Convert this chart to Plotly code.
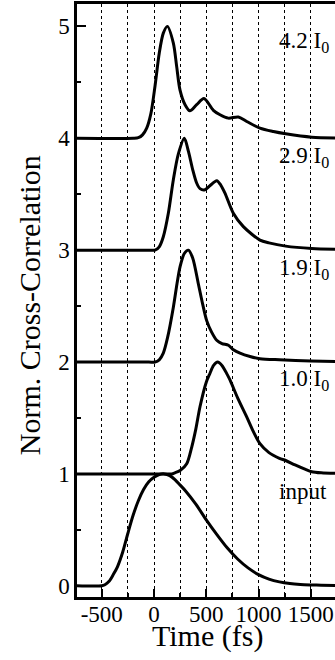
import plotly.graph_objects as go

# ---- data ----
t_input = [-740, -500, -470, -430, -390, -350, -300, -250, -200, -150, -100, -50, 0, 50, 100, 150, 200, 250, 300,
           400, 500, 600, 700, 800, 900, 1000, 1100, 1200, 1300, 1400, 1500, 1600, 1750]
v_input = [0, 0, 0.01, 0.04, 0.10, 0.17, 0.30, 0.47, 0.63, 0.76, 0.86, 0.93, 0.97, 0.995, 1.0, 0.985, 0.95, 0.90, 0.85,
           0.73, 0.59, 0.46, 0.34, 0.24, 0.16, 0.10, 0.06, 0.035, 0.02, 0.012, 0.008, 0.005, 0.003]

t_10 = [-740, 100, 169, 200, 250, 313, 361, 400, 440, 500, 536, 570, 609, 650, 700, 727, 800, 887, 950, 1014,
        1100, 1200, 1260, 1350, 1450, 1509, 1600, 1750]
v_10 = [0, 0, 0, 0.01, 0.03, 0.09, 0.24, 0.40, 0.60, 0.82, 0.90, 0.97, 1.0, 0.97, 0.89, 0.84, 0.68, 0.51, 0.38, 0.27,
        0.19, 0.14, 0.12, 0.08, 0.04, 0.02, 0.01, 0.005]

t_19 = [-740, -50, 10, 50, 89, 130, 185, 220, 249, 290, 329, 370, 424, 465, 504, 550, 600, 650, 712, 760, 823, 919,
        1014, 1200, 1500, 1750]
v_19 = [0, 0, 0, 0.02, 0.08, 0.22, 0.49, 0.70, 0.85, 0.97, 1.0, 0.93, 0.70, 0.52, 0.37, 0.27, 0.195, 0.165, 0.15,
        0.11, 0.08, 0.05, 0.03, 0.02, 0.01, 0.005]

t_29 = [-740, -50, 10, 50, 89, 137, 185, 233, 290, 330, 370, 408, 440, 488, 540, 600, 640, 679, 759, 855, 1014,
        1100, 1260, 1509, 1750]
v_29 = [0, 0, 0, 0.03, 0.12, 0.33, 0.63, 0.86, 1.0, 0.88, 0.72, 0.60, 0.55, 0.54, 0.58, 0.62, 0.58, 0.51, 0.33,
        0.21, 0.09, 0.065, 0.036, 0.015, 0.008]

t_42 = [-740, -200, -150, -110, -70, -30, 10, 50, 89, 128, 185, 217, 249, 297, 344, 408, 478, 568, 632, 711, 807, 887,
        1014, 1142, 1260, 1509, 1750]
v_42 = [0, 0, 0.005, 0.03, 0.09, 0.22, 0.47, 0.76, 0.94, 1.0, 0.85, 0.64, 0.43, 0.30, 0.245, 0.30, 0.355, 0.25, 0.21,
        0.18, 0.19, 0.15, 0.09, 0.06, 0.04, 0.01, 0.003]

series = [
    (t_input, v_input, 0, "input"),
    (t_10, v_10, 1, "1.0 I<sub>0</sub>"),
    (t_19, v_19, 2, "1.9 I<sub>0</sub>"),
    (t_29, v_29, 3, "2.9 I<sub>0</sub>"),
    (t_42, v_42, 4, "4.2 I<sub>0</sub>"),
]
label_y = [0.84, 1.84, 2.83, 3.83, 4.86]

x_tickvals = [-500, 0, 500, 1000, 1500]
x_ticktext = ["-500", "0", "500", "1000", "1500"]
y_tickvals = [0, 1, 2, 3, 4, 5]

FONT = "Liberation Serif, Times New Roman, Times, serif"

fig = go.Figure()
for (t, v, off, name) in series:
    fig.add_trace(go.Scatter(
        x=t, y=[val + off for val in v], mode="lines",
        line=dict(color="black", width=3, shape="spline", smoothing=0.8),
        showlegend=False, hoverinfo="skip"))

for (t, v, off, name), ly in zip(series, label_y):
    fig.add_annotation(x=1175, y=ly, xref="x", yref="y", text=name, showarrow=False,
                       xanchor="left", yanchor="middle",
                       font=dict(family=FONT, size=23, color="black"))

fig.add_annotation(x=-0.186, y=0.492, xref="paper", yref="paper", text="Norm. Cross-Correlation",
                   textangle=-90, showarrow=False, xanchor="center", yanchor="middle",
                   font=dict(family=FONT, size=30, color="black"))
fig.add_annotation(x=0.505, y=-0.066, xref="paper", yref="paper", text="Time (fs)",
                   showarrow=False, xanchor="center", yanchor="middle",
                   font=dict(family=FONT, size=30, color="black"))

fig.update_layout(
    width=335, height=660,
    margin=dict(l=77, r=0, t=4, b=63, autoexpand=False),
    paper_bgcolor="white", plot_bgcolor="white",
    font=dict(family=FONT, color="black"),
    xaxis=dict(range=[-737, 1732], automargin=False, showline=True, linecolor="black", linewidth=2.5, mirror=True,
               tickmode="array", tickvals=x_tickvals, ticktext=x_ticktext,
               ticks="inside", ticklen=8, tickwidth=2, tickcolor="black", ticklabelstandoff=-5,
               tickfont=dict(family=FONT, size=23, color="black"),
               showgrid=True, gridcolor="black", griddash="dot", gridwidth=1,
               minor=dict(dtick=250, tick0=0, ticks="inside", ticklen=4, tickwidth=2, tickcolor="black",
                          showgrid=True, gridcolor="black", griddash="dot", gridwidth=1),
               zeroline=False),
    yaxis=dict(range=[-0.1, 5.2], automargin=False, showline=True, linecolor="black", linewidth=2.5, mirror=False,
               tickmode="array", tickvals=y_tickvals,
               ticks="inside", ticklen=9, tickwidth=2, tickcolor="black",
               tickfont=dict(family=FONT, size=23, color="black"),
               showgrid=False, zeroline=False,
               minor=dict(dtick=0.5, tick0=0, ticks="inside", ticklen=4, tickwidth=2, tickcolor="black",
                          showgrid=False)),
)

fig.write_html("out.html", config={"displayModeBar": False},
               post_script="document.body.style.margin='0';document.body.style.overflow='hidden';")
